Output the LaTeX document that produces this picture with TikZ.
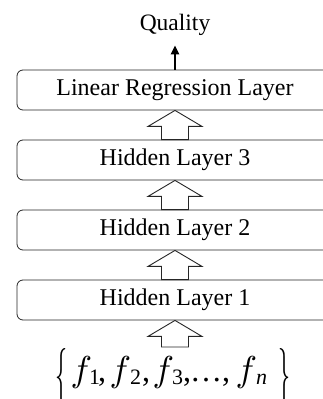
\documentclass[tikz,border=0pt]{standalone}
\usepackage{fontspec}
\usepackage{graphicx}
\setmainfont{Liberation Serif}
\usetikzlibrary{calc,arrows.meta}
\tikzset{
  layerbox/.style={draw=black!85, line width=0.8pt, rounded corners=6pt,
    minimum width=316pt, minimum height=40pt, inner sep=0pt,
    font=\fontsize{24}{28}\selectfont},
  harrowsty/.style={draw=black!85, line width=0.9pt, fill=white, line join=miter},
  qarrow/.style={line width=2.4pt, -{Triangle[width=8pt,length=9pt]}, shorten >=10pt},
  txt/.style={inner sep=0pt, font=\fontsize{23.5}{28}\selectfont}
}
\newcommand{\harrow}[2]{%
  \draw[harrowsty] ($(#1)+(-13.5,0)$) |- ($(#2)+(-27,-16)$) -- (#2)
    -- ($(#2)+(27,-16)$) -| ($(#1)+(13.5,0)$) -- cycle;}
\newcommand{\mylbr}{\raisebox{-11pt}{\resizebox{12pt}{44pt}{$\{$}}}
\newcommand{\myrbr}{\raisebox{-11pt}{\resizebox{12pt}{44pt}{$\}$}}}
\newcommand{\putat}[2]{\rlap{\hspace*{#1}#2}}
\newcommand{\myf}{{\normalsize\scalebox{3.6}{$f$}}}
\newcommand{\mysub}[1]{\raisebox{-3pt}{\fontsize{22}{24}\selectfont #1}}
\begin{document}
\begin{tikzpicture}[x=1pt,y=1pt]
  \useasboundingbox (0,0) rectangle (323,-399);
  \clip (0,0) rectangle (323,-399);
  \node[layerbox] (lrl) at (175,-90) {Linear Regression Layer};
  \node[layerbox] (h3) at (175,-160) {Hidden Layer 3};
  \node[layerbox] (h2) at (175,-230) {Hidden Layer 2};
  \node[layerbox] (h1) at (175,-300) {Hidden Layer 1};
  \node[txt, anchor=base] (q) at (175,-30) {Quality};
  \draw[qarrow] (lrl.north) -- (q.south);
  \node[inner sep=0pt, anchor=base west, font=\fontsize{32}{36}\selectfont] (feats) at (55,-381)
    {\makebox[235pt][l]{%
      \putat{0pt}{\mylbr}%
      \putat{15.5pt}{\myf}\putat{34pt}{\mysub{1}}\putat{43pt}{,}%
      \putat{54.5pt}{\myf}\putat{75pt}{\mysub{2}}\putat{87pt}{,}%
      \putat{97.5pt}{\myf}\putat{117pt}{\mysub{3}}\putat{128pt}{,}%
      \putat{135pt}{…}\putat{167pt}{,}%
      \putat{180.5pt}{\myf}\putat{201pt}{\mysub{\itshape n}}%
      \putat{223pt}{\myrbr}}};
  \coordinate (fin) at (175,-347);
  \harrow{h3.north}{lrl.south}
  \harrow{h2.north}{h3.south}
  \harrow{h1.north}{h2.south}
  \harrow{fin}{h1.south}
\end{tikzpicture}
\end{document}
